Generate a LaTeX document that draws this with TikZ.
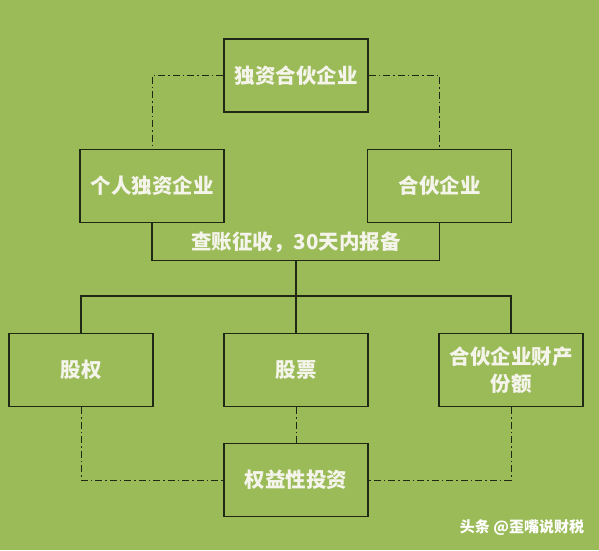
\documentclass[tikz,border=0pt]{standalone}
\usepackage{fontspec}
\newfontfamily\cjk{Noto Sans CJK SC}
\definecolor{bg}{HTML}{9BBB59}
\definecolor{ln}{HTML}{1E2814}
\definecolor{tx}{HTML}{F4F4EA}
\begin{document}
\begin{tikzpicture}[x=1pt,y=-1pt,
  box/.style={draw=ln, line width=1.3pt, minimum width=144pt, minimum height=73pt,
    inner sep=0pt, text=tx, font=\cjk\bfseries\fontsize{20.5}{27}\selectfont, align=center},
  lbl/.style={text=tx, font=\cjk\bfseries\fontsize{20.5}{27}\selectfont, inner sep=0pt},
  link/.style={draw=ln, line width=1.2pt},
  dd/.style={draw=ln, line width=1pt, dash pattern=on 7pt off 3pt on 1.5pt off 3pt}]
\fill[bg] (0,0) rectangle (599,550);
\useasboundingbox (0,0) rectangle (599,550);
% top row
\node[box] (top) at (296,75.5) {独资合伙企业};
\node[box] (l) at (152,186) {个人独资企业};
\node[box] (r) at (439.5,186) {合伙企业};
\draw[dd] (top.west) -| (l.north);
\draw[dd] (top.east) -| (r.north);
% account label
\node[lbl] (acct) at (296,242) {查账征收，30天内报备};
\draw[link] (l.south) -- ++(0,37) coordinate (ul) -- (ul -| r.south) -- (r.south);
% middle row
\node[box] (b1) at (81,370) {股权};
\node[box] (b2) at (296,370) {股票};
\node[box] (b3) at (511,370) {合伙企业财产\\份额};
\coordinate (bar) at (296,296);
\draw[link] (acct |- ul) -- (bar);
\draw[link] (b1.north) -- (b1 |- bar) -- (b3 |- bar) -- (b3.north);
\draw[link] (b2.north) -- (b2 |- bar);
% bottom
\node[box] (eq) at (296,480) {权益性投资};
\draw[dd] (b1.south) |- (eq.west);
\draw[dd] (b3.south) |- (eq.east);
\draw[dd] (b2.south) -- (eq.north);
% watermark
\node[text=white, font=\cjk\bfseries\fontsize{15}{18}\selectfont, inner sep=0pt] (wm) at (522,528) {头条 @歪嘴说财税};
\end{tikzpicture}
\end{document}
